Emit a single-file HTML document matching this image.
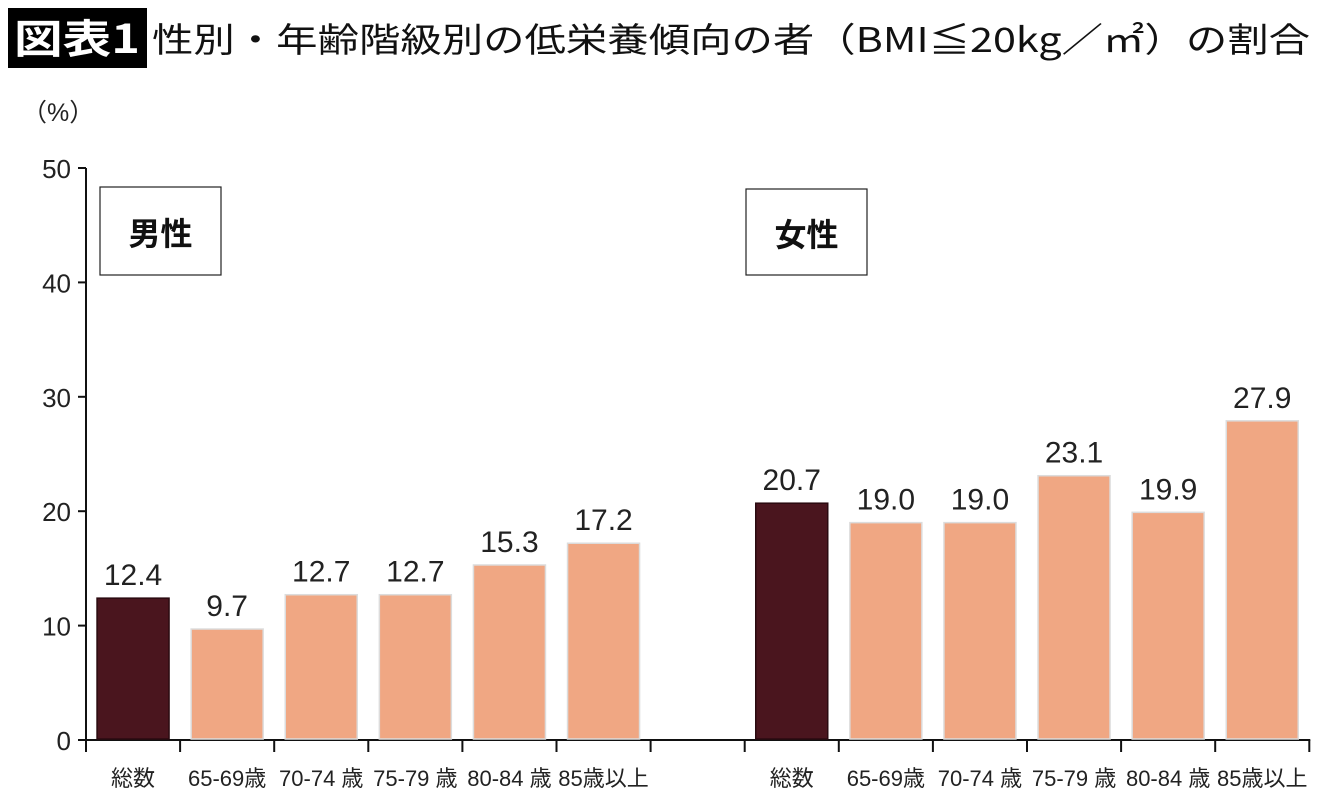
<!DOCTYPE html>
<html><head><meta charset="utf-8"><style>
body{margin:0;background:#fff;width:1340px;height:800px;overflow:hidden}
svg{display:block}
</style></head><body>
<svg id="chart" width="1340" height="800" xmlns="http://www.w3.org/2000/svg">
<rect x="8" y="8" width="139" height="60" fill="#000"/>
<text x="14" y="53" font-size="40" font-weight="bold" fill="#fff" font-family="'Noto Sans CJK JP',sans-serif" textLength="126" lengthAdjust="spacingAndGlyphs">図表1</text>
<text x="152" y="52" font-size="34" font-weight="normal" fill="#111" font-family="'Noto Sans CJK JP',sans-serif" textLength="1158" lengthAdjust="spacingAndGlyphs">性別・年齢階級別の低栄養傾向の者（BMI≦20kg／㎡）の割合</text>
<text x="22" y="121" font-size="25" fill="#222" font-family="'Liberation Sans','Noto Sans CJK JP',sans-serif">（%）</text>
<g id="axes"></g>
<g id="bars"></g>
<rect x="100" y="187" width="121" height="88" fill="#fff" stroke="#222" stroke-width="1.2"/>
<text x="160.5" y="245" font-size="32" font-weight="bold" text-anchor="middle" fill="#111" font-family="'Noto Sans CJK JP',sans-serif">男性</text>
<rect x="746" y="189" width="121" height="86" fill="#fff" stroke="#222" stroke-width="1.2"/>
<text x="806.5" y="246" font-size="32" font-weight="bold" text-anchor="middle" fill="#111" font-family="'Noto Sans CJK JP',sans-serif">女性</text>
</svg>
<script>
const categories = ["総数","65-69歳","70-74 歳","75-79 歳","80-84 歳","85歳以上"];
const maleValues = [12.4, 9.7, 12.7, 12.7, 15.3, 17.2];
const femaleValues = [20.7, 19.0, 19.0, 23.1, 19.9, 27.9];
const yTicks = [0, 10, 20, 30, 40, 50];

const NS = "http://www.w3.org/2000/svg";
const x0 = 86, step = 94.1, y0 = 740, yTop = 168, yMax = 50;
function yScale(v){ return y0 - (v / yMax) * (y0 - yTop); }
function slotX(i){ return x0 + i * step; }
function mk(tag, attrs, parent){ const e = document.createElementNS(NS, tag); for (const k in attrs) e.setAttribute(k, attrs[k]); parent.appendChild(e); return e; }
const axes = document.getElementById('axes');
const bars = document.getElementById('bars');

const yAxis = mk('line', {x1:x0, y1:yTop, x2:x0, y2:y0, stroke:'#111', 'stroke-width':2}, axes);


const xAxis = mk('line', {x1:x0, y1:y0, x2:slotX(13)+1, y2:y0, stroke:'#111', 'stroke-width':2}, axes);



yTicks.forEach(t => {
  const y = yScale(t);
  const tk = mk('line', {x1:x0-8, y1:y, x2:x0, y2:y, stroke:'#111', 'stroke-width':2}, axes);
  
  
  const lb = mk('text', {x:71, y:y+10, 'font-size':26, 'text-anchor':'end', fill:'#222', 'font-family':'"Liberation Sans",sans-serif'}, axes);
  lb.textContent = t;
  
  
});

for (let i = 0; i <= 13; i++) {
  const tk = mk('line', {x1:slotX(i), y1:y0, x2:slotX(i), y2:y0+12, stroke:'#111', 'stroke-width':2}, axes);
  
  
}

function drawGroup(values, startSlot, prefix){
  values.forEach((v, i) => {
    const s = startSlot + i;
    const cx = slotX(s) + step/2;
    const top = yScale(v);
    const r = mk('rect', {x:cx-36, y:top, width:72, height:y0-top-1, fill: i===0 ? '#4a151e' : '#f0a783', stroke: i===0 ? '#2a0a10' : '#dcdcdc', 'stroke-width':1.5}, bars);
    
    
    const t = mk('text', {x:cx, y:top-13, 'font-size':30, 'text-anchor':'middle', fill:'#222', 'font-family':'"Liberation Sans",sans-serif'}, bars);
    t.textContent = v.toFixed(1);
    
    
    const c = mk('text', {x:cx, y:786, 'font-size':22, 'text-anchor':'middle', fill:'#222', 'font-family':'"Liberation Sans","Noto Sans CJK JP",sans-serif'}, bars);
    c.textContent = categories[i];
    
    
  });
}
drawGroup(maleValues, 0, 'male');
drawGroup(femaleValues, 7, 'female');
</script>
</body></html>
